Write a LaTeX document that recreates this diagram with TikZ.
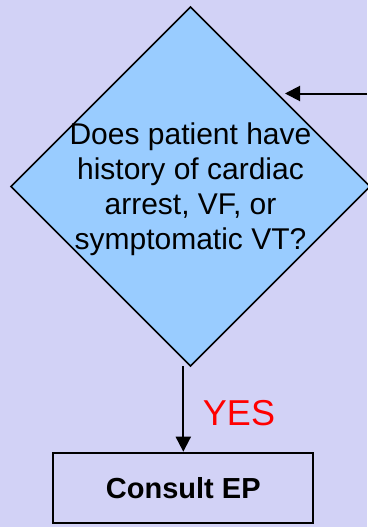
\documentclass[tikz,border=0pt]{standalone}
\usepackage{fontspec}
\setmainfont{Liberation Sans}
\usetikzlibrary{shapes.geometric,arrows.meta}
\definecolor{bgcol}{RGB}{210,210,246}
\definecolor{dfill}{RGB}{153,204,255}
\definecolor{yesred}{RGB}{255,0,0}
\tikzset{
  decision/.style={diamond, aspect=1, draw=black, line width=1.5pt, fill=dfill,
    minimum width=359pt, minimum height=359pt, inner sep=0pt, outer sep=0pt},
  dtext/.style={align=center, inner sep=0pt, font=\fontsize{30}{35}\selectfont},
  actbox/.style={rectangle, draw=black, line width=2pt, fill=bgcol,
    minimum width=260pt, minimum height=70.6pt, inner sep=0pt,
    font=\fontsize{29}{34}\selectfont\bfseries},
  arr/.style={line width=2pt, -{Triangle[length=15pt,width=15pt]}},
  lbl/.style={text=yesred, inner sep=0pt, font=\fontsize{36}{40}\selectfont}
}
\begin{document}
\begin{tikzpicture}[x=1pt,y=-1pt]
\fill[bgcol] (0,0) rectangle (367,527);
\useasboundingbox (0,0) rectangle (367,527);
\node[decision] (d) at (190.5,186.5) {};
\node[dtext] (q) at (190.5,189.5) {Does patient have\\history of cardiac\\arrest, VF, or\\symptomatic VT?};
\node[actbox] (b) at (183.3,488) {Consult EP};
\coordinate (inR) at (367,93.5);
\coordinate (inT) at (285,93.5);
\draw[arr] (inR) -- (inT);
\draw[arr] (b.north |- d.south) -- (b.north);
\node[lbl] (yes) at (239,413) {YES};
\end{tikzpicture}
\end{document}
